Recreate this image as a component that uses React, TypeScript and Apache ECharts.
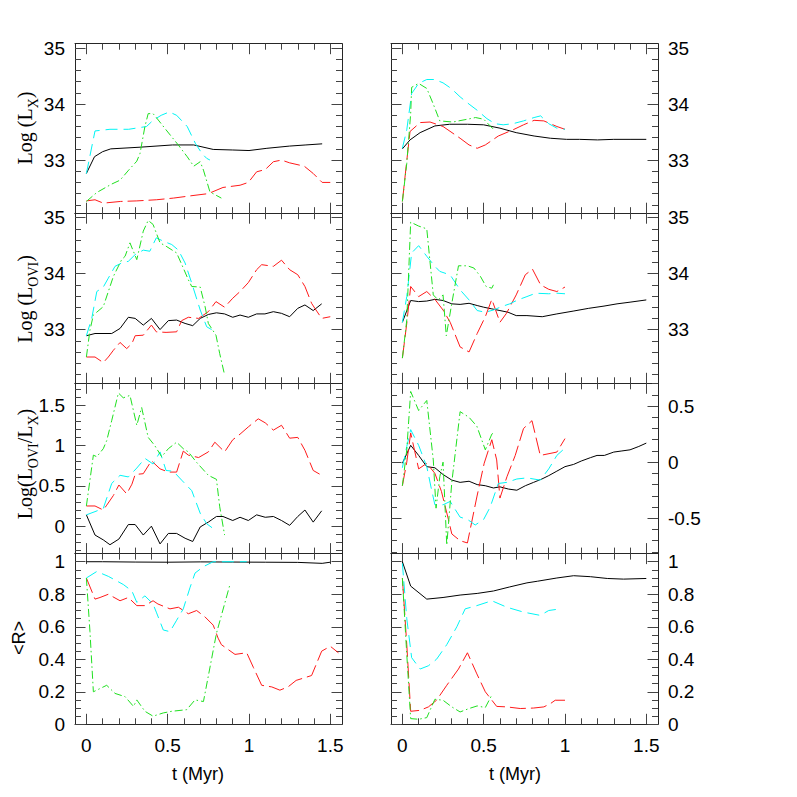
import React, { useEffect, useRef } from 'react';
import * as echarts from 'echarts';

type P = [number, number][];

// ---------- Row 1: Log(Lx) ----------
const lxLeftBlack: P = [[0,32.76],[0.05,33.06],[0.1,33.15],[0.15,33.2],[0.33,33.23],[0.53,33.27],[0.66,33.27],[0.78,33.19],[0.9,33.18],[1.0,33.17],[1.11,33.21],[1.25,33.25],[1.35,33.27],[1.45,33.29]];
const lxLeftCyan: P = [[0,32.76],[0.053,33.52],[0.145,33.55],[0.26,33.55],[0.37,33.6],[0.41,33.71],[0.46,33.8],[0.51,33.86],[0.555,33.8],[0.62,33.6],[0.67,33.3],[0.71,33.12],[0.74,33.03],[0.76,33.0]];
const lxLeftGreen: P = [[0,32.26],[0.064,32.42],[0.155,32.57],[0.207,32.64],[0.26,32.82],[0.31,32.98],[0.33,33.12],[0.36,33.6],[0.38,33.83],[0.41,33.83],[0.43,33.76],[0.49,33.54],[0.565,33.27],[0.62,33.06],[0.66,32.89],[0.7,32.97],[0.72,32.82],[0.76,32.43],[0.83,32.32]];
const lxLeftRed: P = [[0,32.27],[0.053,32.29],[0.104,32.23],[0.21,32.26],[0.31,32.27],[0.43,32.29],[0.535,32.32],[0.64,32.36],[0.75,32.4],[0.84,32.51],[0.945,32.55],[0.996,32.6],[1.047,32.79],[1.1,32.83],[1.15,32.97],[1.2,33.0],[1.25,32.95],[1.34,32.89],[1.395,32.76],[1.45,32.6],[1.5,32.6]];

const lxRightBlack: P = [[0,33.2],[0.047,33.36],[0.109,33.49],[0.2,33.61],[0.29,33.64],[0.4,33.64],[0.5,33.63],[0.6,33.57],[0.7,33.49],[0.81,33.43],[0.91,33.39],[1.01,33.37],[1.09,33.37],[1.2,33.36],[1.3,33.37],[1.4,33.37],[1.5,33.37]];
const lxRightRed: P = [[0,32.26],[0.023,32.88],[0.047,33.51],[0.109,33.67],[0.17,33.68],[0.25,33.6],[0.355,33.39],[0.41,33.27],[0.46,33.21],[0.51,33.27],[0.59,33.43],[0.68,33.54],[0.745,33.63],[0.81,33.71],[0.87,33.7],[0.95,33.6],[1.0,33.55]];
const lxRightCyan: P = [[0,33.21],[0.027,33.54],[0.057,34.19],[0.1,34.37],[0.15,34.44],[0.2,34.44],[0.25,34.38],[0.3,34.28],[0.355,34.13],[0.41,34.0],[0.46,33.89],[0.52,33.74],[0.57,33.65],[0.62,33.63],[0.68,33.65],[0.745,33.7],[0.81,33.76],[0.85,33.79],[0.9,33.65],[0.95,33.57],[1.0,33.55]];
const lxRightGreen: P = [[0,32.26],[0.027,32.94],[0.051,33.83],[0.057,34.3],[0.1,34.37],[0.15,34.28],[0.19,34.0],[0.23,33.7],[0.31,33.68],[0.4,33.73],[0.45,33.76],[0.5,33.73],[0.56,33.55]];

// ---------- Row 2: Log(L_OVI) ----------
const ovLeftBlack: P = [[0,32.89],[0.053,32.93],[0.156,32.93],[0.207,33.02],[0.258,33.22],[0.3,33.2],[0.35,33.08],[0.4,33.2],[0.453,33.0],[0.504,33.16],[0.555,33.17],[0.607,33.11],[0.654,33.07],[0.7,33.2],[0.75,33.27],[0.8,33.3],[0.85,33.28],[0.9,33.22],[0.945,33.26],[0.996,33.22],[1.047,33.28],[1.098,33.28],[1.15,33.32],[1.2,33.29],[1.25,33.23],[1.3,33.38],[1.344,33.44],[1.395,33.34],[1.447,33.46]];
const ovLeftRed: P = [[0,32.51],[0.053,32.51],[0.104,32.41],[0.135,32.51],[0.166,32.63],[0.207,32.77],[0.248,32.66],[0.28,32.75],[0.3,32.89],[0.35,32.9],[0.4,33.08],[0.43,32.96],[0.49,32.95],[0.555,32.96],[0.586,33.16],[0.627,33.22],[0.69,33.2],[0.75,33.32],[0.797,33.5],[0.85,33.4],[0.9,33.56],[0.945,33.68],[0.996,33.84],[1.047,34.07],[1.078,34.16],[1.15,34.13],[1.2,34.24],[1.25,34.07],[1.3,33.98],[1.344,33.77],[1.385,33.47],[1.405,33.38],[1.447,33.2],[1.5,33.23]];
const ovLeftCyan: P = [[0,32.89],[0.033,33.2],[0.064,33.68],[0.104,33.76],[0.135,33.92],[0.176,34.13],[0.217,34.19],[0.258,34.22],[0.3,34.34],[0.35,34.42],[0.39,34.4],[0.43,34.64],[0.473,34.58],[0.525,34.52],[0.566,34.42],[0.607,34.19],[0.648,33.83],[0.7,33.35],[0.74,33.05],[0.77,33.0]];
const ovLeftGreen: P = [[0,32.51],[0.022,32.99],[0.043,33.26],[0.104,33.41],[0.166,33.95],[0.217,34.25],[0.238,34.31],[0.268,34.55],[0.31,34.25],[0.35,34.76],[0.38,34.95],[0.41,34.88],[0.453,34.55],[0.49,34.49],[0.555,34.37],[0.596,34.1],[0.627,33.89],[0.648,33.77],[0.7,33.76],[0.73,33.41],[0.75,33.11],[0.797,32.9],[0.82,32.57],[0.85,32.19]];

const ovRightBlack: P = [[0,33.13],[0.051,33.52],[0.1,33.5],[0.15,33.51],[0.2,33.54],[0.25,33.52],[0.304,33.46],[0.355,33.45],[0.41,33.47],[0.46,33.43],[0.5,33.4],[0.55,33.37],[0.6,33.34],[0.65,33.31],[0.7,33.25],[0.766,33.25],[0.86,33.23],[0.95,33.28],[1.05,33.33],[1.146,33.38],[1.24,33.42],[1.32,33.46],[1.4,33.49],[1.5,33.53]];
const ovRightRed: P = [[0,32.49],[0.027,33.11],[0.051,33.77],[0.1,33.59],[0.15,33.68],[0.2,33.54],[0.25,33.35],[0.294,33.13],[0.355,32.69],[0.41,32.6],[0.46,32.93],[0.51,33.23],[0.55,33.54],[0.6,33.13],[0.64,33.29],[0.7,33.62],[0.756,33.98],[0.8,34.08],[0.85,33.8],[0.9,33.72],[0.95,33.68],[1.0,33.76]];
const ovRightCyan: P = [[0,33.13],[0.027,33.59],[0.057,34.37],[0.1,34.5],[0.15,34.31],[0.2,34.13],[0.23,34.04],[0.27,34.0],[0.3,33.95],[0.355,33.71],[0.41,33.53],[0.46,33.34],[0.51,33.31],[0.56,33.35],[0.61,33.41],[0.66,33.46],[0.71,33.53],[0.766,33.59],[0.82,33.65],[0.9,33.64],[0.95,33.65],[1.0,33.64]];
const ovRightGreen: P = [[0,32.49],[0.027,33.17],[0.051,34.92],[0.1,34.85],[0.15,34.8],[0.19,33.62],[0.22,33.53],[0.25,33.62],[0.27,32.89],[0.304,33.47],[0.345,34.14],[0.4,34.14],[0.44,34.1],[0.48,33.95],[0.515,33.77],[0.55,33.74],[0.56,33.8]];

// ---------- Row 3: Log(L_OVI / Lx) ----------
const ratLeftBlack: P = [[0,0.14],[0.053,-0.11],[0.104,-0.17],[0.145,-0.23],[0.2,-0.16],[0.258,0.02],[0.3,0.02],[0.35,-0.11],[0.4,0.0],[0.453,-0.22],[0.504,-0.09],[0.555,-0.09],[0.607,-0.15],[0.654,-0.19],[0.7,-0.01],[0.75,0.05],[0.8,0.12],[0.84,0.12],[0.9,0.07],[0.945,0.11],[0.996,0.07],[1.047,0.14],[1.1,0.11],[1.15,0.12],[1.2,0.07],[1.25,0.01],[1.3,0.12],[1.344,0.2],[1.395,0.05],[1.447,0.19]];
const ratLeftRed: P = [[0,0.25],[0.053,0.25],[0.104,0.2],[0.125,0.26],[0.166,0.38],[0.2,0.51],[0.248,0.4],[0.28,0.52],[0.3,0.64],[0.35,0.65],[0.4,0.81],[0.453,0.71],[0.504,0.67],[0.555,0.67],[0.596,0.93],[0.627,0.88],[0.69,0.85],[0.75,0.92],[0.79,1.04],[0.85,0.92],[0.9,1.07],[0.945,1.14],[0.996,1.23],[1.057,1.33],[1.1,1.28],[1.15,1.19],[1.2,1.25],[1.25,1.09],[1.3,1.1],[1.344,0.94],[1.395,0.69],[1.447,0.63],[1.457,0.62]];
const ratLeftCyan: P = [[0,0.14],[0.053,0.18],[0.104,0.22],[0.156,0.53],[0.207,0.63],[0.258,0.61],[0.31,0.72],[0.36,0.84],[0.41,0.77],[0.453,0.92],[0.49,0.69],[0.535,0.68],[0.586,0.57],[0.648,0.44],[0.7,0.16],[0.74,0.03],[0.78,-0.03]];
const ratLeftGreen: P = [[0,0.25],[0.043,0.88],[0.064,0.86],[0.104,0.96],[0.125,1.06],[0.156,1.31],[0.197,1.65],[0.227,1.59],[0.268,1.62],[0.31,1.25],[0.34,1.47],[0.38,1.1],[0.42,1.0],[0.463,0.86],[0.504,0.96],[0.555,1.04],[0.596,0.96],[0.627,0.92],[0.678,0.79],[0.75,0.63],[0.8,0.58],[0.82,0.24],[0.85,-0.11]];

const ratRightBlack: P = [[0,-0.01],[0.051,0.15],[0.1,0.06],[0.15,-0.04],[0.2,-0.05],[0.25,-0.11],[0.304,-0.16],[0.355,-0.18],[0.41,-0.17],[0.46,-0.2],[0.51,-0.21],[0.56,-0.23],[0.6,-0.22],[0.653,-0.24],[0.704,-0.25],[0.756,-0.21],[0.807,-0.18],[0.858,-0.15],[0.9,-0.12],[0.95,-0.08],[1.0,-0.04],[1.053,-0.02],[1.1,0.01],[1.156,0.04],[1.197,0.06],[1.242,0.06],[1.3,0.09],[1.35,0.1],[1.4,0.11],[1.454,0.14],[1.5,0.17]];
const ratRightRed: P = [[0,-0.21],[0.027,0.0],[0.051,0.26],[0.1,-0.06],[0.15,-0.01],[0.2,-0.1],[0.24,-0.26],[0.283,-0.51],[0.304,-0.64],[0.355,-0.7],[0.4,-0.72],[0.458,-0.31],[0.503,-0.01],[0.55,0.2],[0.58,0.02],[0.6,-0.32],[0.643,-0.13],[0.694,0.06],[0.745,0.3],[0.797,0.37],[0.848,0.06],[0.95,0.09],[1.0,0.21]];
const ratRightCyan: P = [[0,-0.05],[0.027,0.14],[0.051,0.29],[0.1,0.15],[0.15,-0.04],[0.18,-0.25],[0.2,-0.38],[0.25,-0.38],[0.294,-0.35],[0.324,-0.42],[0.355,-0.49],[0.4,-0.51],[0.448,-0.56],[0.5,-0.51],[0.54,-0.4],[0.59,-0.19],[0.643,-0.18],[0.704,-0.15],[0.766,-0.14],[0.848,-0.16],[0.9,-0.06],[0.95,0.06],[0.988,0.11]];
const ratRightGreen: P = [[0,-0.21],[0.027,0.11],[0.051,0.63],[0.1,0.46],[0.15,0.55],[0.19,0.02],[0.207,-0.41],[0.23,-0.13],[0.25,0.0],[0.273,-0.74],[0.304,-0.18],[0.355,0.45],[0.41,0.4],[0.458,0.32],[0.51,0.11],[0.55,0.25],[0.56,0.26]];

// ---------- Row 4: <R> ----------
const rLeftBlack: P = [[0,1.0],[0.1,1.0],[0.3,0.998],[0.5,0.997],[0.7,0.999],[0.9,0.998],[1.1,0.997],[1.3,0.996],[1.45,0.99],[1.5,0.997]];
const rLeftCyan: P = [[0,0.9],[0.064,0.94],[0.135,0.91],[0.227,0.86],[0.28,0.82],[0.31,0.75],[0.36,0.79],[0.41,0.74],[0.43,0.69],[0.473,0.58],[0.514,0.57],[0.555,0.64],[0.596,0.71],[0.637,0.84],[0.668,0.93],[0.72,0.97],[0.78,1.0],[0.9,1.0],[0.986,1.0]];
const rLeftRed: P = [[0,0.9],[0.053,0.77],[0.084,0.78],[0.135,0.8],[0.207,0.76],[0.258,0.78],[0.31,0.73],[0.36,0.73],[0.41,0.76],[0.44,0.74],[0.514,0.71],[0.566,0.72],[0.627,0.68],[0.678,0.7],[0.73,0.66],[0.78,0.61],[0.81,0.53],[0.83,0.49],[0.914,0.43],[0.986,0.44],[1.027,0.35],[1.078,0.24],[1.14,0.23],[1.19,0.21],[1.24,0.23],[1.29,0.27],[1.385,0.3],[1.447,0.45],[1.5,0.48],[1.55,0.44]];
const rLeftGreen: P = [[0,0.9],[0.022,0.57],[0.043,0.2],[0.125,0.24],[0.176,0.19],[0.238,0.17],[0.29,0.11],[0.31,0.15],[0.36,0.08],[0.41,0.05],[0.473,0.07],[0.525,0.08],[0.617,0.09],[0.668,0.15],[0.72,0.14],[0.8,0.56],[0.883,0.86]];

const rRightBlack: P = [[0,1.0],[0.051,0.85],[0.15,0.77],[0.25,0.78],[0.355,0.795],[0.46,0.805],[0.56,0.82],[0.66,0.845],[0.766,0.87],[0.83,0.88],[0.95,0.9],[1.053,0.914],[1.156,0.908],[1.26,0.897],[1.36,0.893],[1.5,0.897]];
const rRightCyan: P = [[0,0.99],[0.027,0.65],[0.057,0.41],[0.109,0.34],[0.16,0.36],[0.21,0.4],[0.273,0.49],[0.335,0.6],[0.386,0.71],[0.458,0.73],[0.55,0.76],[0.643,0.72],[0.745,0.69],[0.848,0.67],[0.9,0.7],[0.97,0.71]];
const rRightRed: P = [[0,0.9],[0.027,0.49],[0.051,0.08],[0.109,0.086],[0.16,0.107],[0.21,0.148],[0.273,0.24],[0.345,0.34],[0.4,0.44],[0.458,0.31],[0.51,0.2],[0.58,0.11],[0.643,0.107],[0.725,0.097],[0.807,0.1],[0.87,0.107],[0.91,0.127],[0.94,0.148],[1.0,0.148]];
const rRightGreen: P = [[0,0.9],[0.027,0.43],[0.051,0.035],[0.1,0.031],[0.15,0.041],[0.2,0.154],[0.25,0.148],[0.304,0.107],[0.355,0.076],[0.41,0.097],[0.46,0.113],[0.51,0.103],[0.55,0.18]];

// ---------- Axes / ticks ----------
const xMajorTicks = [0, 0.5, 1, 1.5];
const lumMajorTicks = [33, 34, 35];
const ratLeftMajorTicks = [0, 0.5, 1, 1.5];
const ratRightMajorTicks = [-0.5, 0, 0.5];
const rMajorTicks = [0, 0.2, 0.4, 0.6, 0.8, 1];

const X_MIN = -0.07;
const X_MAX = 1.572;

const FRAME = '#262626';
const TICK = '#444';
const LABEL_FONT = 'Liberation Sans, Arial, Helvetica, sans-serif';
const SERIF = 'Liberation Serif, Times New Roman, serif';

function minorTicks(min: number, max: number, step: number, major: number[]): number[] {
  const out: number[] = [];
  const k0 = Math.ceil(min / step - 1e-9);
  const k1 = Math.floor(max / step + 1e-9);
  for (let k = k0; k <= k1; k++) {
    const v = Math.round(k * step * 1e6) / 1e6;
    if (v <= min + 1e-6 || v >= max - 1e-6) continue;
    if (major.some((m) => Math.abs(m - v) < 1e-6)) continue;
    out.push(v);
  }
  return out;
}

type YCfg = { min: number; max: number; major: number[]; step: number };
const rowsY: { left: YCfg; right: YCfg }[] = [
  { left: { min: 32.05, max: 35.08, major: lumMajorTicks, step: 0.2 }, right: { min: 32.05, max: 35.08, major: lumMajorTicks, step: 0.2 } },
  { left: { min: 32.04, max: 35.08, major: lumMajorTicks, step: 0.2 }, right: { min: 32.04, max: 35.08, major: lumMajorTicks, step: 0.2 } },
  { left: { min: -0.34, max: 1.77, major: ratLeftMajorTicks, step: 0.1 }, right: { min: -0.815, max: 0.703, major: ratRightMajorTicks, step: 0.1 } },
  { left: { min: 0, max: 1.05, major: rMajorTicks, step: 0.05 }, right: { min: 0, max: 1.05, major: rMajorTicks, step: 0.05 } },
];

const rowTops = [43.7, 213.2, 383.3, 553.6];
const rowHeights = [169.5, 170.1, 170.3, 170.7];
const colLefts = [75, 391];
const colWidth = 267;

const panelSeries: P[][][] = [
  [[lxLeftBlack, lxLeftRed, lxLeftCyan, lxLeftGreen], [lxRightBlack, lxRightRed, lxRightCyan, lxRightGreen]],
  [[ovLeftBlack, ovLeftRed, ovLeftCyan, ovLeftGreen], [ovRightBlack, ovRightRed, ovRightCyan, ovRightGreen]],
  [[ratLeftBlack, ratLeftRed, ratLeftCyan, ratLeftGreen], [ratRightBlack, ratRightRed, ratRightCyan, ratRightGreen]],
  [[rLeftBlack, rLeftRed, rLeftCyan, rLeftGreen], [rRightBlack, rRightRed, rRightCyan, rRightGreen]],
];

const seriesStyles = [
  { color: '#000000', type: 'solid' as any },
  { color: '#ff1a1a', type: [16, 5] as any },
  { color: '#00f5f5', type: [12, 6] as any },
  { color: '#1fe01f', type: [8, 3, 1.5, 3] as any },
];

function buildOption() {
  const grid: any[] = [];
  const xAxis: any[] = [];
  const yAxis: any[] = [];
  const series: any[] = [];
  const xMinor = minorTicks(X_MIN, X_MAX, 0.1, xMajorTicks);

  for (let r = 0; r < 4; r++) {
    for (let c = 0; c < 2; c++) {
      const g = grid.length;
      grid.push({ left: colLefts[c], top: rowTops[r], width: colWidth, height: rowHeights[r], containLabel: false });
      const xc = { type: 'value', gridIndex: g, min: X_MIN, max: X_MAX, splitLine: { show: false } };
      const lineOn = { show: true, onZero: false, lineStyle: { color: FRAME, width: 1 } };
      const lineOff = { show: false, onZero: false };
      const majTick = (vals: number[]) => ({ show: true, inside: true, length: 10.5, customValues: vals, lineStyle: { color: TICK, width: 1 } });
      const minTick = (vals: number[]) => ({ show: true, inside: true, length: 6, customValues: vals, lineStyle: { color: TICK, width: 1 } });
      const showX = r === 3;
      xAxis.push(
        { ...xc, position: 'bottom', axisLine: lineOn, axisTick: majTick(xMajorTicks),
          axisLabel: showX ? { show: true, customValues: xMajorTicks, margin: 12, fontSize: 19, color: '#000', fontFamily: LABEL_FONT } : { show: false } },
        { ...xc, position: 'bottom', axisLine: lineOff, axisTick: minTick(xMinor), axisLabel: { show: false } },
        { ...xc, position: 'top', axisLine: lineOn, axisTick: majTick(xMajorTicks), axisLabel: { show: false } },
        { ...xc, position: 'top', axisLine: lineOff, axisTick: minTick(xMinor), axisLabel: { show: false } },
      );
      const yc = c === 0 ? rowsY[r].left : rowsY[r].right;
      const yMinor = minorTicks(yc.min, yc.max, yc.step, yc.major);
      const ycom = { type: 'value', gridIndex: g, min: yc.min, max: yc.max, splitLine: { show: false } };
      const lab = { show: true, customValues: yc.major, margin: 10, fontSize: 19, color: '#000', fontFamily: LABEL_FONT };
      yAxis.push(
        { ...ycom, position: 'left', axisLine: lineOn, axisTick: majTick(yc.major), axisLabel: c === 0 ? lab : { show: false } },
        { ...ycom, position: 'left', axisLine: lineOff, axisTick: minTick(yMinor), axisLabel: { show: false } },
        { ...ycom, position: 'right', axisLine: lineOn, axisTick: majTick(yc.major), axisLabel: c === 1 ? lab : { show: false } },
        { ...ycom, position: 'right', axisLine: lineOff, axisTick: minTick(yMinor), axisLabel: { show: false } },
      );
      panelSeries[r][c].forEach((data, i) => {
        series.push({
          type: 'line',
          xAxisIndex: g * 4,
          yAxisIndex: g * 4,
          data,
          symbol: 'none',
          showSymbol: false,
          silent: true,
          clip: true,
          lineStyle: { color: seriesStyles[i].color, width: 1, type: seriesStyles[i].type },
          z: 2 + i,
        });
      });
    }
  }

  const serifMain = { fontFamily: SERIF, fontSize: 20, lineHeight: 30, fill: '#000' };
  const serifSub = { fontFamily: SERIF, fontSize: 14, lineHeight: 14, verticalAlign: 'bottom', fill: '#000' };
  const titleStyle = (text: string) => ({
    text,
    rich: { a: serifMain, s: serifSub },
    align: 'center',
    verticalAlign: 'middle',
  });

  const graphic: any[] = [
    { type: 'text', x: 25, y: 128, rotation: Math.PI / 2, style: titleStyle('{a|Log (L}{s|X}{a|)}') },
    { type: 'text', x: 25, y: 299, rotation: Math.PI / 2, style: titleStyle('{a|Log (L}{s|OVI}{a|)}') },
    { type: 'text', x: 25, y: 464, rotation: Math.PI / 2, style: titleStyle('{a|Log(L}{s|OVI}{a|/L}{s|X}{a|)}') },
    { type: 'text', x: 19, y: 638, rotation: Math.PI / 2, style: { text: '<R>', fontFamily: LABEL_FONT, fontSize: 18, fill: '#000', align: 'center', verticalAlign: 'middle' } },
    { type: 'text', x: 198, y: 774, style: { text: 't (Myr)', fontFamily: LABEL_FONT, fontSize: 18, fill: '#000', align: 'center', verticalAlign: 'middle' } },
    { type: 'text', x: 515, y: 774, style: { text: 't (Myr)', fontFamily: LABEL_FONT, fontSize: 18, fill: '#000', align: 'center', verticalAlign: 'middle' } },
  ];

  return { animation: false, backgroundColor: '#ffffff', grid, xAxis, yAxis, series, graphic };
}

export default function App() {
  const ref = useRef<HTMLDivElement>(null);
  useEffect(() => {
    if (!ref.current) return;
    const chart = echarts.init(ref.current, null, { renderer: 'svg' });
    chart.setOption(buildOption() as any);
    return () => chart.dispose();
  }, []);
  return <div ref={ref} style={{ position: 'fixed', left: 0, top: 0, width: 797, height: 797, background: '#fff' }} />;
}
